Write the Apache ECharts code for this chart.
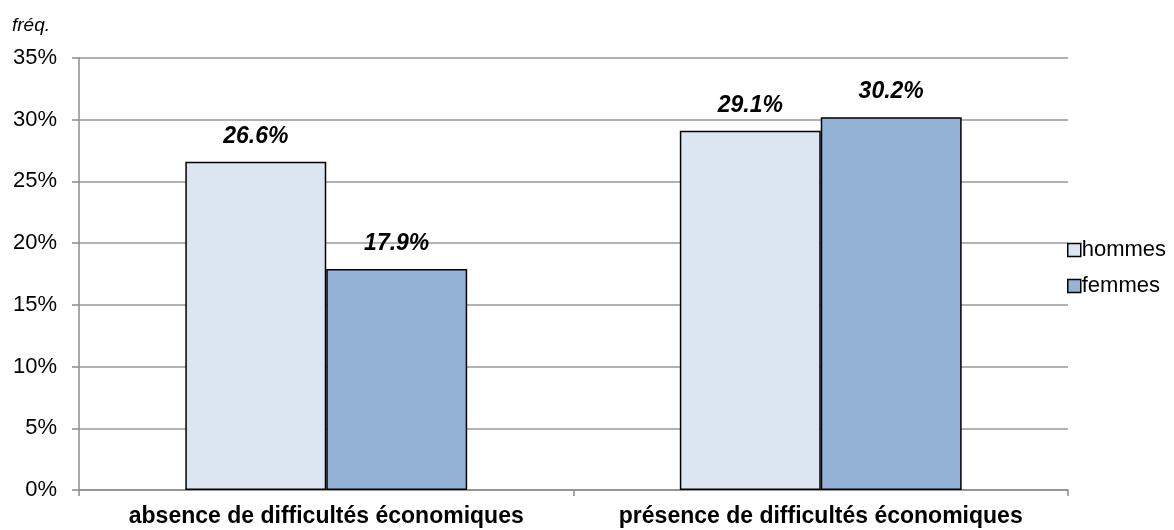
<!DOCTYPE html>
<html>
<head>
<meta charset="utf-8">
<script src="https://cdn.jsdelivr.net/npm/echarts@6/dist/echarts.min.js"></script>
<style>html,body{margin:0;padding:0;background:#fff}#c{width:1174px;height:530px}</style>
</head>
<body>
<div id="c"></div>
<script>
const categories = ['absence de difficultés économiques', 'présence de difficultés économiques'];
const hommes = [26.6, 29.1];
const femmes = [17.9, 30.2];
const yTicks = [0, 5, 10, 15, 20, 25, 30, 35];

const chart = echarts.init(document.getElementById('c'), null, {renderer: 'canvas'});
const FONT = '"Liberation Sans", Arial, sans-serif';
const lbl = {
  show: true, position: 'top', distance: 14,
  fontFamily: FONT, fontSize: 23, fontWeight: 'bold', fontStyle: 'italic', color: '#000',
  formatter: p => p.value.toFixed(1) + '%'
};
chart.setOption({
  animation: false,
  textStyle: {fontFamily: FONT},
  title: {
    text: 'fréq.', left: 7, top: 11,
    textStyle: {fontFamily: FONT, fontSize: 19, fontStyle: 'italic', fontWeight: 'normal', color: '#000'}
  },
  legend: {
    orient: 'vertical', left: 1062, top: 234,
    icon: 'rect',
    itemWidth: 13, itemHeight: 13, itemGap: 14,
    textStyle: {fontFamily: FONT, fontSize: 22, color: '#000', padding: [0, 0, 0, -4]},
    data: [
      {name: 'hommes', itemStyle: {color: '#DCE6F2', borderColor: '#000', borderWidth: 1.5}},
      {name: 'femmes', itemStyle: {color: '#95B3D7', borderColor: '#000', borderWidth: 1.5}}
    ]
  },
  grid: {left: 79, right: 106, top: 58, bottom: 40, containLabel: false},
  xAxis: {
    type: 'category', data: categories,
    axisLine: {show: true, lineStyle: {color: '#8c8c8c', width: 1.5}},
    axisTick: {show: true, length: 6, lineStyle: {color: '#8c8c8c', width: 1.5}},
    axisLabel: {interval: 0, fontFamily: FONT, fontSize: 23, fontWeight: 'bold', color: '#000', margin: 15}
  },
  yAxis: {
    type: 'value', min: 0, max: 35, interval: 5,
    axisLine: {show: true, lineStyle: {color: '#8c8c8c', width: 1.5}},
    axisTick: {show: true, length: 7, lineStyle: {color: '#8c8c8c', width: 1.5}},
    splitLine: {show: true, lineStyle: {color: '#999', width: 1.5}},
    axisLabel: {
      fontFamily: FONT, fontSize: 22, color: '#000', margin: 22,
      formatter: v => yTicks.includes(v) ? v + '%' : ''
    }
  },
  series: [
    {name: 'hommes', type: 'bar', data: hommes, barGap: '0%', barCategoryGap: '43%',
     itemStyle: {color: '#DCE6F2', borderColor: '#000', borderWidth: 1.5}, label: lbl},
    {name: 'femmes', type: 'bar', data: femmes,
     itemStyle: {color: '#95B3D7', borderColor: '#000', borderWidth: 1.5}, label: lbl}
  ]
});
</script>
</body>
</html>
